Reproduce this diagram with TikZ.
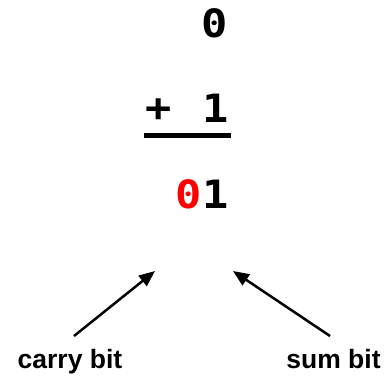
\documentclass[tikz,border=0pt]{standalone}
\usepackage{fontspec}
\usetikzlibrary{arrows.meta}
\newfontfamily\digitfont[FakeStretch=1.12]{DejaVu Sans Mono}
\newfontfamily\labelfont{Liberation Sans}
\definecolor{carryred}{RGB}{255,0,0}
\begin{document}
\begin{tikzpicture}[x=1pt,y=-1pt,
  digit/.style={inner sep=0pt,anchor=base,font=\digitfont\bfseries\fontsize{39}{46}\selectfont},
  lbl/.style={inner sep=0pt,anchor=base,font=\labelfont\bfseries\fontsize{26.5}{32}\selectfont},
  pointer/.style={line width=2.5pt,-{Triangle[length=16pt,width=13pt]}}]
\useasboundingbox (0,0) rectangle (386,381);
\node[digit] (a) at (215,37) {0};
\node[digit] (plus) at (158.5,121) {+};
\node[digit] (b) at (216,122) {1};
\draw[line width=5pt] (144,135) coordinate (l1) -- (231,135) coordinate (l2);
\node[digit,text=carryred] (c) at (188.5,208) {0};
\node[digit] (s) at (215.5,208) {1};
\node[lbl] (carry) at (70,368) {carry bit};
\node[lbl] (sum) at (333.5,368) {sum bit};
\coordinate (cs) at (74,336);
\coordinate (ct) at (155,271);
\coordinate (ss) at (330,336);
\coordinate (st) at (233,271);
\draw[pointer] (cs) -- (ct);
\draw[pointer] (ss) -- (st);
\end{tikzpicture}
\end{document}
